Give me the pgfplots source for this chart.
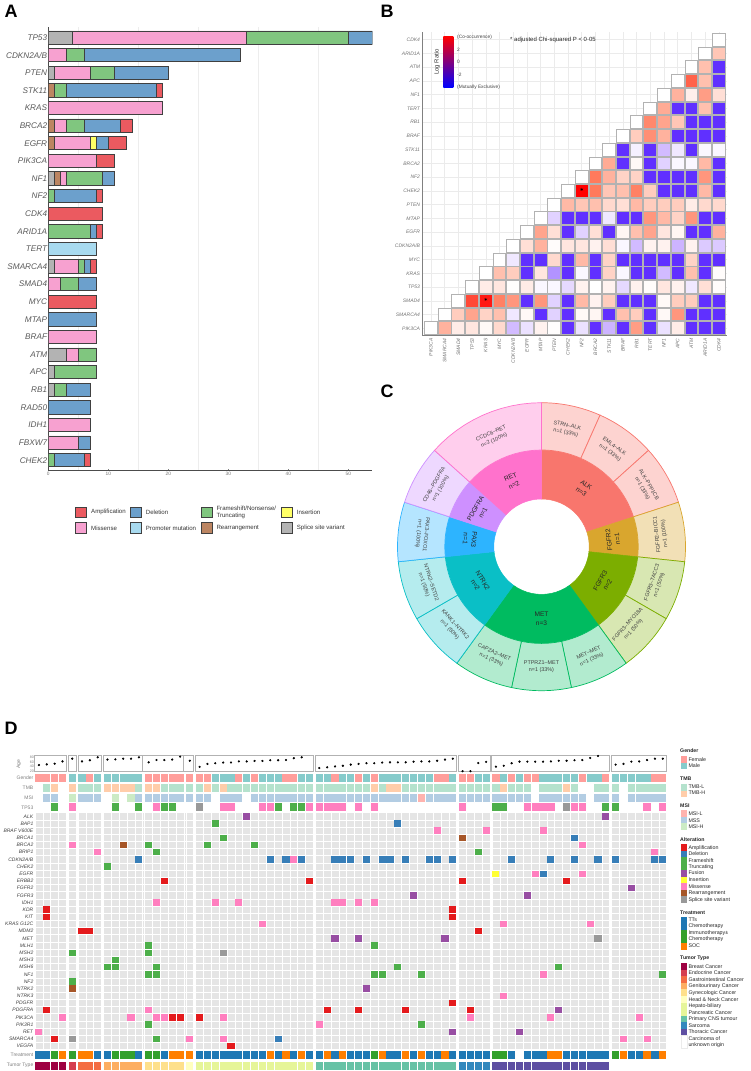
\documentclass[border=0pt]{standalone}
\usepackage{fontspec}
\setmainfont{Liberation Sans}
\usepackage{pgfplots}
\pgfplotsset{compat=1.18}
\usepackage{pgfplotstable}

% panel A / alteration colours
\definecolor{cAmp}{HTML}{EB5A60}
\definecolor{cDel}{HTML}{6CA0CC}
\definecolor{cFra}{HTML}{80C67F}
\definecolor{cIns}{HTML}{FFFF66}
\definecolor{cMis}{HTML}{F7A1D0}
\definecolor{cPro}{HTML}{A8DAEF}
\definecolor{cRea}{HTML}{BC8562}
\definecolor{cSpl}{HTML}{B3B3B3}
% panel C
\definecolor{fALK}{HTML}{F8766D}
\definecolor{fFR2}{HTML}{D9A62E}
\definecolor{fFR3}{HTML}{7CAE00}
\definecolor{fMET}{HTML}{00BB60}
\definecolor{fNTR}{HTML}{0ABFC6}
\definecolor{fPAX}{HTML}{2DB4FF}
\definecolor{fPDG}{HTML}{CE90FF}
\definecolor{fRET}{HTML}{FF72CC}
% panel D
\definecolor{oAmp}{HTML}{E41A1C}
\definecolor{oDel}{HTML}{377EB8}
\definecolor{oFra}{HTML}{4DAF4A}
\definecolor{oFus}{HTML}{984EA3}
\definecolor{oIns}{HTML}{FFFF33}
\definecolor{oMis}{HTML}{FF7FBF}
\definecolor{oRea}{HTML}{A65628}
\definecolor{oSpl}{HTML}{999999}
\definecolor{gF}{HTML}{FF9E9B}
\definecolor{gM}{HTML}{86CBCB}
\definecolor{tL}{HTML}{B5E2CD}
\definecolor{tH}{HTML}{FFCDAA}
\definecolor{mL}{HTML}{FFB3AE}
\definecolor{mS}{HTML}{B3CDE3}
\definecolor{mH}{HTML}{CCEBC5}
\definecolor{trA}{HTML}{1F78B4}
\definecolor{trB}{HTML}{33A02C}
\definecolor{trC}{HTML}{FF7F00}
\definecolor{tu1}{HTML}{9E0142}
\definecolor{tu2}{HTML}{D53E4F}
\definecolor{tu3}{HTML}{F46D43}
\definecolor{tu4}{HTML}{FDAE61}
\definecolor{tu5}{HTML}{FEE08B}
\definecolor{tu6}{HTML}{FFFFBF}
\definecolor{tu7}{HTML}{E6F598}
\definecolor{tu8}{HTML}{66C2A5}
\definecolor{tu9}{HTML}{3288BD}
\definecolor{tuA}{HTML}{5E4FA2}

\pgfplotstableread{
y sp re mi pr in fr de am
25 4 0 29 0 0 17 4 0
24 0 0 3 0 0 3 26 0
23 1 0 6 0 0 4 9 0
22 0 1 0 0 0 2 15 1
21 0 0 19 0 0 0 0 0
20 0 1 2 0 0 3 6 2
19 0 1 6 0 1 0 2 3
18 0 0 8 0 0 0 0 3
17 1 1 1 0 0 6 2 0
16 0 0 0 0 0 1 7 1
15 0 0 0 0 0 0 0 9
14 0 0 0 0 0 7 1 1
13 0 0 0 8 0 0 0 0
12 1 0 4 0 0 1 1 1
11 0 0 2 0 0 3 3 0
10 0 0 0 0 0 0 0 8
9 0 0 0 0 0 0 8 0
8 0 0 8 0 0 0 0 0
7 3 0 2 0 0 3 0 0
6 1 0 0 0 0 7 0 0
5 1 0 0 0 0 2 4 0
4 0 0 0 0 0 0 7 0
3 0 0 7 0 0 0 0 0
2 0 0 5 0 0 0 2 0
1 0 0 0 0 0 1 5 1
}\alterations

% cell marks: a shade smaller than the column and row pitch, so the white gaps stay
\pgfdeclareplotmark{gcell}{\pgfpathrectangle{\pgfqpoint{-3.55pt}{-3.22pt}}{\pgfqpoint{7.1pt}{6.44pt}}\pgfusepathqfill}
\pgfdeclareplotmark{acell}{\pgfpathrectangle{\pgfqpoint{-3.6pt}{-3.9pt}}{\pgfqpoint{7.2pt}{7.8pt}}\pgfusepathqfill}

% one oncoprint annotation row: colour, row position, columns
\newcommand{\annot}[3]{\def\pts{}%
  \pgfplotsforeachungrouped \cc in {#3}{\edef\pts{\pts(\cc,#2)}}%
  \edef\cmd{\noexpand\addplot[only marks,mark=acell,color=#1] coordinates {\pts};}\cmd}
% one ring sector: from angle, to angle, inner r, outer r, style
\newcommand{\sector}[5]{\def\pts{}%
  \pgfplotsforeachungrouped \tt in {0,...,12}{\pgfmathsetmacro\aa{#1+(#2-#1)*\tt/12}\edef\pts{\pts(\aa,#4)}}%
  \pgfplotsforeachungrouped \tt in {12,11,...,0}{\pgfmathsetmacro\aa{#1+(#2-#1)*\tt/12}\edef\pts{\pts(\aa,#3)}}%
  \edef\cmd{\noexpand\addplot[data cs=polar,#5] coordinates {\pts} -- cycle;}\cmd}
\newcommand{\grect}[2]{\addplot[fill=black!10,draw=none] coordinates {(#1,0.5)(#2,0.5)(#2,33.5)(#1,33.5)} -- cycle;}
\newcommand{\gframe}[2]{\addplot[draw=black!30,line width=1pt] coordinates {(#1,16.8)(#2,16.8)(#2,88.8)(#1,88.8)} -- cycle;}

\pgfplotsset{
  gaps/.style={x filter/.expression={x+0.242*((x>4.5)+(x>5.5)+(x>8.5)+(x>13.5)+(x>18.5)+(x>19.5)+(x>34.5)+(x>52.5)+(x>56.5)+(x>71.5))}},
}

\begin{document}
\begin{tikzpicture}
\useasboundingbox (0pt,0pt) rectangle (750pt,-1071pt);

% ---------- A
\begin{axis}[
  at={(48.3pt,-470.5pt)},anchor=south west,scale only axis,width=324pt,height=443.5pt,
  xbar stacked,bar width=13.3pt,
  xmin=0,xmax=54,ymin=0.416,ymax=25.6,
  axis lines*=left,
  axis line style={black!70,line width=1pt},
  xtick={0,10,20,30,40,50},
  minor xtick={5,15,25,35,45},xminorgrids=true,minor grid style={black!7,line width=.5pt},
  minor tick length=0pt,major tick length=2pt,
  tick style={black!50},
  ytick={1,...,25},
  yticklabels={CHEK2,FBXW7,IDH1,RAD50,RB1,APC,ATM,BRAF,MTAP,MYC,SMAD4,SMARCA4,TERT,ARID1A,CDK4,NF2,NF1,PIK3CA,EGFR,BRCA2,KRAS,STK11,PTEN,CDKN2A/B,TP53},
  yticklabel style={font=\fontsize{8.2}{9}\selectfont\itshape,text=black!65,inner sep=1pt},
  xticklabel style={font=\fontsize{4.8}{6}\selectfont,text=black!55,inner sep=1.5pt,/pgf/number format/assume math mode=true},
  every axis plot/.append style={draw=black!75,line width=.8pt},
]
\addplot[fill=cSpl] table[x=sp,y=y] {\alterations};
\addplot[fill=cRea] table[x=re,y=y] {\alterations};
\addplot[fill=cMis] table[x=mi,y=y] {\alterations};
\addplot[fill=cPro] table[x=pr,y=y] {\alterations};
\addplot[fill=cIns] table[x=in,y=y] {\alterations};
\addplot[fill=cFra] table[x=fr,y=y] {\alterations};
\addplot[fill=cDel] table[x=de,y=y] {\alterations};
\addplot[fill=cAmp] table[x=am,y=y] {\alterations};
\end{axis}

% ---------- B
\begin{axis}[
  at={(422.7pt,-335.7pt)},anchor=south west,scale only axis,width=304.3pt,height=303.7pt,
  xmin=-0.6,xmax=21.6,ymin=-0.54,ymax=21.56,
  axis lines*=left,axis line style={black!50,line width=1pt},
  grid=major,grid style={black!8,line width=.5pt},
  major tick length=0pt,clip=false,
  xtick={0,...,21},ytick={0,...,21},
  xticklabels={PIK3CA,SMARCA4,SMAD4,TP53,KRAS,MYC,CDKN2A/B,EGFR,MTAP,PTEN,CHEK2,NF2,BRCA2,STK11,BRAF,RB1,TERT,NF1,APC,ATM,ARID1A,CDK4},
  yticklabels={PIK3CA,SMARCA4,SMAD4,TP53,KRAS,MYC,CDKN2A/B,EGFR,MTAP,PTEN,CHEK2,NF2,BRCA2,STK11,BRAF,RB1,TERT,NF1,APC,ATM,ARID1A,CDK4},
  xticklabel style={font=\fontsize{5}{6}\selectfont\itshape,text=black!55,rotate=90,anchor=east,inner sep=2.5pt},
  yticklabel style={font=\fontsize{5}{6}\selectfont\itshape,text=black!55,inner sep=2.5pt},
  colormap={lr}{rgb255(0cm)=(96,48,255); rgb255(2cm)=(205,180,255); rgb255(3cm)=(255,255,255); rgb255(4cm)=(255,192,174); rgb255(5cm)=(255,122,92); rgb255(6cm)=(255,0,0)},
  point meta min=-3,point meta max=3,
]
\addplot[scatter,only marks,mark=square*,mark size=6.4pt,line width=.9pt,point meta=explicit,
  scatter/use mapped color={draw=black!30,fill=mapped color}] coordinates {
 (21,21) [0]
 (20,20) [0] (21,20) [0.9]
 (19,19) [0] (20,19) [1] (21,19) [-3]
 (18,18) [0] (19,18) [2.2] (20,18) [1] (21,18) [-3]
 (17,17) [0] (18,17) [1.2] (19,17) [.25] (20,17) [1.5] (21,17) [.5]
 (16,16) [0] (17,16) [1.3] (18,16) [-3] (19,16) [-3] (20,16) [1] (21,16) [-3]
 (15,15) [0] (16,15) [1.8] (17,15) [1.4] (18,15) [.9] (19,15) [-3] (20,15) [-3] (21,15) [-3]
 (14,14) [0] (15,14) [.8] (16,14) [1.7] (17,14) [1.2] (18,14) [-3] (19,14) [-3] (20,14) [-3] (21,14) [-3]
 (13,13) [0] (14,13) [-3] (15,13) [-.2] (16,13) [-3] (17,13) [-.9] (18,13) [-.3] (19,13) [-3] (20,13) [-.1] (21,13) [-.1]
 (12,12) [0] (13,12) [1.3] (14,12) [-3] (15,12) [.1] (16,12) [-3] (17,12) [-.6] (18,12) [-.1] (19,12) [-.1] (20,12) [1.1] (21,12) [-3]
 (11,11) [0] (12,11) [2] (13,11) [1.2] (14,11) [.7] (15,11) [.7] (16,11) [-3] (17,11) [-3] (18,11) [-3] (19,11) [-3] (20,11) [1.6] (21,11) [-3]
 (10,10) [0] (11,10) [3] (12,10) [2] (13,10) [.9] (14,10) [1] (15,10) [1.9] (16,10) [.8] (17,10) [-3] (18,10) [-3] (19,10) [-3] (20,10) [1.1] (21,10) [-3]
 (9,9) [0] (10,9) [1.1] (11,9) [.9] (12,9) [1] (13,9) [.6] (14,9) [.5] (15,9) [1.1] (16,9) [.8] (17,9) [.8] (18,9) [.8] (19,9) [.3] (20,9) [.6] (21,9) [.6]
 (8,8) [0] (9,8) [-.6] (10,8) [-3] (11,8) [-3] (12,8) [-3] (13,8) [-.3] (14,8) [-3] (15,8) [-3] (16,8) [1.6] (17,8) [1.1] (18,8) [.7] (19,8) [1.6] (20,8) [-3] (21,8) [-3]
 (7,7) [0] (8,7) [1.4] (9,7) [.5] (10,7) [-3] (11,7) [-.6] (12,7) [.5] (13,7) [-3] (14,7) [.15] (15,7) [1] (16,7) [1.4] (17,7) [.4] (18,7) [.15] (19,7) [-3] (20,7) [-3] (21,7) [1.2]
 (6,6) [0] (7,6) [.5] (8,6) [1.2] (9,6) [.05] (10,6) [.4] (11,6) [.4] (12,6) [.2] (13,6) [.5] (14,6) [-.1] (15,6) [-.9] (16,6) [.2] (17,6) [.2] (18,6) [-1] (19,6) [.2] (20,6) [-.7] (21,6) [-.7]
 (5,5) [0] (6,5) [-.3] (7,5) [-3] (8,5) [-3] (9,5) [.6] (10,5) [-3] (11,5) [1.1] (12,5) [-3] (13,5) [.7] (14,5) [-3] (15,5) [-3] (16,5) [-3] (17,5) [-3] (18,5) [-3] (19,5) [.7] (20,5) [-3] (21,5) [-3]
 (4,4) [0] (5,4) [1] (6,4) [.8] (7,4) [-3] (8,4) [.4] (9,4) [-1.5] (10,4) [-3] (11,4) [-.1] (12,4) [-3] (13,4) [.7] (14,4) [-.1] (15,4) [-3] (16,4) [-3] (17,4) [-.9] (18,4) [-3] (19,4) [1] (20,4) [-3] (21,4) [.05]
 (3,3) [0] (4,3) [.3] (5,3) [.4] (6,3) [.02] (7,3) [.3] (8,3) [-.1] (9,3) [-.1] (10,3) [-.5] (11,3) [.2] (12,3) [0] (13,3) [.2] (14,3) [-.5] (15,3) [.2] (16,3) [.05] (17,3) [.4] (18,3) [.2] (19,3) [-.3] (20,3) [.5] (21,3) [.05]
 (2,2) [0] (3,2) [2.4] (4,2) [2.8] (5,2) [1.9] (6,2) [1.6] (7,2) [-3] (8,2) [1.6] (9,2) [-.6] (10,2) [-3] (11,2) [1.1] (12,2) [.2] (13,2) [.8] (14,2) [-3] (15,2) [-3] (16,2) [-3] (17,2) [.1] (18,2) [.8] (19,2) [.8] (20,2) [-3] (21,2) [-3]
 (1,1) [0] (2,1) [.8] (3,1) [1.4] (4,1) [.7] (5,1) [1] (6,1) [-.3] (7,1) [.1] (8,1) [-3] (9,1) [-.6] (10,1) [-3] (11,1) [.1] (12,1) [.15] (13,1) [-3] (14,1) [1] (15,1) [.8] (16,1) [-3] (17,1) [.1] (18,1) [1.6] (19,1) [-3] (20,1) [-3] (21,1) [-3]
 (0,0) [0] (1,0) [1.2] (2,0) [.3] (3,0) [.4] (4,0) [.1] (5,0) [.6] (6,0) [-.9] (7,0) [-.4] (8,0) [.2] (9,0) [.03] (10,0) [-3] (11,0) [-.4] (12,0) [-3] (13,0) [-1] (14,0) [-3] (15,0) [1.5] (16,0) [-3] (17,0) [-.4] (18,0) [.3] (19,0) [-3] (20,0) [-3] (21,0) [-3]
};
\addplot[only marks,mark=asterisk,mark size=1.5pt,line width=.4pt,black] coordinates {(11,10.1) (4,2.1)};
\end{axis}

% ---------- C
\begin{axis}[
  at={(395.5pt,-692.7pt)},anchor=south west,scale only axis,width=292pt,height=292pt,
  xmin=-146,xmax=146,ymin=-146,ymax=146,hide axis,clip=false,
]
\sector{90}{18}{47.7}{96.7}{fill=fALK,draw=fALK,line width=.5pt}
\sector{18}{-6}{47.7}{96.7}{fill=fFR2,draw=fFR2,line width=.5pt}
\sector{-6}{-54}{47.7}{96.7}{fill=fFR3,draw=fFR3,line width=.5pt}
\sector{-54}{-126}{47.7}{96.7}{fill=fMET,draw=fMET,line width=.5pt}
\sector{-126}{-174}{47.7}{96.7}{fill=fNTR,draw=fNTR,line width=.5pt}
\sector{-174}{-198}{47.7}{96.7}{fill=fPAX,draw=fPAX,line width=.5pt}
\sector{-198}{-222}{47.7}{96.7}{fill=fPDG,draw=fPDG,line width=.5pt}
\sector{-222}{-270}{47.7}{96.7}{fill=fRET,draw=fRET,line width=.5pt}
\sector{90}{66}{96.7}{144}{fill=fALK!32!white,draw=fALK,line width=.7pt}
\sector{66}{42}{96.7}{144}{fill=fALK!32!white,draw=fALK,line width=.7pt}
\sector{42}{18}{96.7}{144}{fill=fALK!32!white,draw=fALK,line width=.7pt}
\sector{18}{-6}{96.7}{144}{fill=fFR2!35!white,draw=fFR2,line width=.7pt}
\sector{-6}{-30}{96.7}{144}{fill=fFR3!30!white,draw=fFR3,line width=.7pt}
\sector{-30}{-54}{96.7}{144}{fill=fFR3!30!white,draw=fFR3,line width=.7pt}
\sector{-54}{-78}{96.7}{144}{fill=fMET!30!white,draw=fMET,line width=.7pt}
\sector{-78}{-102}{96.7}{144}{fill=fMET!30!white,draw=fMET,line width=.7pt}
\sector{-102}{-126}{96.7}{144}{fill=fMET!30!white,draw=fMET,line width=.7pt}
\sector{-126}{-150}{96.7}{144}{fill=fNTR!30!white,draw=fNTR,line width=.7pt}
\sector{-150}{-174}{96.7}{144}{fill=fNTR!30!white,draw=fNTR,line width=.7pt}
\sector{-174}{-198}{96.7}{144}{fill=fPAX!35!white,draw=fPAX,line width=.7pt}
\sector{-198}{-222}{96.7}{144}{fill=fPDG!35!white,draw=fPDG,line width=.7pt}
\sector{-222}{-270}{96.7}{144}{fill=fRET!35!white,draw=fRET,line width=.7pt}
\end{axis}
\begin{scope}[shift={(541.5pt,-546.7pt)},x=1pt,y=1pt,
    inl/.style={align=center,font=\fontsize{6.6}{8.5}\selectfont,text=black!85,inner sep=0pt},
    oul/.style={align=center,font=\fontsize{5.4}{7.5}\selectfont,text=black!75,inner sep=0pt}]
  \foreach \a/\r/\t in {54/-36/ALK\\n=3,6/96/FGFR2\\n=1,-30/60/FGFR3\\n=2,-90/0/MET\\n=3,-150/-60/NTRK2\\n=2,-186/-96/PAX3\\n=1,-210/60/PDGFRA\\n=1,-246/24/RET\\n=2}
    \node[inl,rotate=\r] at (\a:72) {\t};
  \foreach \a/\r/\t in {78/-12/STRN--ALK\\n=1 (33\%),54/-36/EML4--ALK\\n=1 (33\%),30/-60/ALK--PPP1CB\\n=1 (33\%),6/96/FGFR2--BICC1\\n=1 (100\%),-18/72/FGFR3--TACC3\\n=1 (50\%),-42/48/FGFR3--MYO18A\\n=1 (50\%),-66/24/MET--MET\\n=1 (33\%),-90/0/PTPRZ1--MET\\n=1 (33\%),-114/-24/CAPZA2--MET\\n=1 (33\%),-138/-48/KANK1--NTRK2\\n=1 (50\%),-162/-72/NTRK2--SETD2\\n=1 (50\%),-186/-96/PAX3--FOXO1\\n=1 (100\%),-210/60/CD46--PDGFRA\\n=1 (100\%),-246/24/CCDC6--RET\\n=2 (100\%)}
    \node[oul,rotate=\r] at (\a:120) {\t};
\end{scope}

% ---------- D, age
\begin{axis}[
  at={(35pt,-771.7pt)},anchor=south west,scale only axis,width=631.7pt,height=16.4pt,
  gaps,xmin=0.5,xmax=80.92,ymin=16.8,ymax=88.8,clip=false,
  axis line style={draw=none},major tick length=0pt,
  xtick=\empty,ytick={20,40,60,80},
  yticklabel style={font=\fontsize{3.6}{4}\selectfont,text=black!50,inner sep=1pt,/pgf/number format/assume math mode=true},
]
\gframe{0.5}{4.5}\gframe{4.5001}{5.5}\gframe{5.5001}{8.5}\gframe{8.5001}{13.5}\gframe{13.5001}{18.5}\gframe{18.5001}{19.5}
\gframe{19.5001}{34.5}\gframe{34.5001}{52.5}\gframe{52.5001}{56.5}\gframe{56.5001}{71.5}\gframe{71.5001}{78.5}
\addplot[only marks,mark=*,mark size=.9pt,black] coordinates {
 (1,46)(2,49)(3,52)(4,62)(5,74)(6,62)(7,67)(8,80)(9,70)(10,71)(11,74)(12,74)(13,80)
 (14,58)(15,68)(16,68)(17,70)(18,83)(19,65)
 (20,38)(21,51)(22,54)(23,57)(24,57)(25,62)(26,62)(27,64)(28,64)(29,67)(30,67)(31,68)(32,76)(33,80)
 (35,33)(36,36)(37,40)(38,43)(39,48)(40,51)(41,54)(42,54)(43,57)(44,58)(45,58)(46,58)(47,61)(48,62)(49,62)(50,65)(51,70)(52,74)
 (53,19)(54,19)(55,55)(56,60)
 (57,39)(58,43)(59,54)(60,61)(61,61)(62,61)(63,61)(64,62)(65,65)(66,65)(67,67)(68,68)(69,77)(70,86)
 (72,48)(73,51)(74,61)(75,62)(76,68)(77,74)(78,74)
};
\end{axis}

% ---------- D, oncoprint
\begin{axis}[
  at={(35pt,-1070.5pt)},anchor=south west,scale only axis,width=631.7pt,height=297pt,
  gaps,xmin=0.5,xmax=80.92,ymin=-4.96,ymax=36.4,y dir=reverse,
  axis on top,clip mode=global,
  axis line style={draw=none},major tick length=0pt,minor tick length=0pt,
  xtick={0.5,1.5,2.5,3.5,4.5,4.742,5.742,5.984,6.984,7.984,8.984,9.226,10.226,11.226,12.226,13.226,14.226,14.468,15.468,16.468,17.468,18.468,19.468,19.71,20.71,20.952,21.952,22.952,23.952,24.952,25.952,26.952,27.952,28.952,29.952,30.952,31.952,32.952,33.952,34.952,35.952,36.194,37.194,38.194,39.194,40.194,41.194,42.194,43.194,44.194,45.194,46.194,47.194,48.194,49.194,50.194,51.194,52.194,53.194,54.194,54.436,55.436,56.436,57.436,58.436,58.678,59.678,60.678,61.678,62.678,63.678,64.678,65.678,66.678,67.678,68.678,69.678,70.678,71.678,72.678,73.678,73.92,74.92,75.92,76.92,77.92,78.92,79.92,80.92},
  xticklabels={},
  xmajorgrids=true,major grid style={white,line width=.7pt},
  minor ytick={0.5,1.5,...,33.5},
  yminorgrids=true,minor grid style={white,line width=.7pt},
  ytick={-4.38,-2.98,-1.58,-0.25,1,2,3,4,5,6,7,8,9,10,11,12,13,14,15,16,17,18,19,20,21,22,23,24,25,26,27,28,29,30,31,32,33,34.28,35.72},
  yticklabels={{\color{black!50}Gender},{\color{black!50}TMB},{\color{black!50}MSI},{\color{black!50}TP53},\textit{ALK},\textit{BAP1},\textit{BRAF V600E},\textit{BRCA1},\textit{BRCA2},\textit{BRIP1},\textit{CDKN2A/B},\textit{CHEK2},\textit{EGFR},\textit{ERBB2},\textit{FGFR2},\textit{FGFR3},\textit{IDH1},\textit{KDR},\textit{KIT},\textit{KRAS G12C},\textit{MDM2},\textit{MET},\textit{MLH1},\textit{MSH2},\textit{MSH3},\textit{MSH6},\textit{NF1},\textit{NF2},\textit{NTRK2},\textit{NTRK3},\textit{PDGFR},\textit{PDGFRA},\textit{PIK3CA},\textit{PIK3R1},\textit{RET},\textit{SMARCA4},\textit{VEGFA},{\color{black!50}Treatment},{\color{black!50}Tumor Type}},
  yticklabel style={font=\fontsize{5}{6}\selectfont,text=black!75,inner sep=1.5pt},
]
\grect{0.5}{4.5}\grect{4.5001}{5.5}\grect{5.5001}{8.5}\grect{8.5001}{13.5}\grect{13.5001}{18.5}\grect{18.5001}{19.5}
\grect{19.5001}{34.5}\grect{34.5001}{52.5}\grect{52.5001}{56.5}\grect{56.5001}{71.5}\grect{71.5001}{78.5}
% alterations: (column, gene row)
\addplot[only marks,mark=gcell,color=oAmp] coordinates {(16,10)(34,10)(53,10)(66,10)(2,14)(52,14)(2,15)(52,15)(6,17)(7,17)(55,17)(52,27)(2,28)(36,28)(40,28)(46,28)(54,28)(17,29)(18,29)(20,29)(3,32)(24,33)};
\addplot[only marks,mark=gcell,color=oDel] coordinates {(45,2)(67,4)(13,7)(29,7)(31,7)(33,7)(37,7)(38,7)(39,7)(41,7)(43,7)(44,7)(46,7)(49,7)(50,7)(52,7)(59,7)(64,7)(67,7)(70,7)(72,7)(77,7)(78,7)(63,9)(30,32)};
\addplot[only marks,mark=gcell,color=oFra] coordinates {(22,2)(23,4)(14,5)(21,5)(27,5)(15,6)(55,6)(9,8)(14,19)(42,19)(5,20)(14,20)(10,21)(9,22)(10,22)(15,22)(45,22)(65,22)(14,23)(15,23)(42,23)(43,23)(48,23)(78,23)(5,24)(14,30)(48,30)(15,32)};
\addplot[only marks,mark=gcell,color=oFus] coordinates {(26,1)(71,1)(74,11)(47,12)(61,12)(37,18)(40,18)(51,18)(41,25)(65,28)(52,31)(60,31)};
\addplot[only marks,mark=gcell,color=oIns] coordinates {(57,9)};
\addplot[only marks,mark=gcell,color=oMis] coordinates {(50,3)(56,3)(63,3)(5,5)(68,5)(8,6)(77,6)(32,7)(62,9)(68,9)(15,13)(22,13)(25,13)(37,13)(38,13)(40,13)(42,13)(28,16)(58,16)(69,16)(63,23)(58,26)(14,28)(4,29)(12,29)(15,29)(16,29)(23,29)(54,29)(64,29)(75,29)(35,30)(1,31)(19,32)(23,32)(73,32)(76,32)};
\addplot[only marks,mark=gcell,color=oRea] coordinates {(53,4)(11,5)(5,25)};
\addplot[only marks,mark=gcell,color=oSpl] coordinates {(23,20)(70,18)(5,32)};
% annotation rows
\annot{gF}{-4.38}{1,2,3,4,7,14,15,16,17,18,19,20,21,25,27,31,32,37,40,42,50,51,53,54,57,59,61,62,68,71,77,78}
\annot{gM}{-4.38}{5,6,8,9,10,11,12,13,22,23,24,26,28,29,30,33,34,35,36,38,39,41,43,44,45,46,47,48,49,52,55,56,58,60,63,64,65,66,67,69,70,72,73,74,75,76}
\annot{tL}{-2.98}{2,6,7,8,13,16,17,18,19,20,22,24,25,26,27,28,29,30,31,32,33,34,35,36,37,38,39,40,41,43,46,47,48,49,50,51,52,53,54,55,56,57,59,60,61,63,64,65,67,70,71,72,74,75,76,77,78}
\annot{tH}{-2.98}{3,5,9,10,11,12,14,15,21,23,42,44,45,58,66}
\annot{mS}{-1.58}{2,3,6,7,8,13,14,15,16,17,18,19,20,21,23,24,25,27,28,29,30,31,32,33,34,35,36,37,38,39,40,41,42,43,44,45,46,47,49,50,51,52,53,54,55,56,57,58,59,60,61,63,64,65,66,67,68,70,71,72,74,75,76,77,78}
\annot{mH}{-1.58}{5,10,12}
\annot{mL}{-1.58}{48}
\annot{oFra}{-0.25}{3,10,13,16,17,30,32,33,57,58,71,72}
\annot{oMis}{-0.25}{5,15,23,24,28,29,34,35,36,37,38,40,42,53,61,62,63,64,67,68,76,78}
\annot{oSpl}{-0.25}{20,66}
\annot{trA}{34.28}{1,2,8,9,13,16,20,21,22,23,24,25,26,27,28,30,32,34,35,37,39,40,41,44,45,47,49,50,52,53,54,55,56,59,61,62,63,66,67,68,69,70,71,74,75,77}
\annot{trB}{34.28}{3,5,10,11,12,14,15,42,57,58,72}
\annot{trC}{34.28}{4,6,7,17,18,19,29,31,33,36,38,43,46,48,51,64,65,73,76,78}
\annot{tu1}{35.72}{1,2,3,4}
\annot{tu2}{35.72}{5}
\annot{tu3}{35.72}{6,7,8}
\annot{tu4}{35.72}{9,10,11,12,13}
\annot{tu5}{35.72}{14,15,16,17,18}
\annot{tu6}{35.72}{19}
\annot{tu7}{35.72}{20,21,22,23,24,25,26,27,28,29,30,31,32,33,34}
\annot{tu8}{35.72}{35,36,37,38,39,40,41,42,43,44,45,46,47,48,49,50,51,52}
\annot{tu9}{35.72}{53,54,55,56}
\annot{tuA}{35.72}{57,58,59,60,61,62,63,64,65,66,67,68,69,70,71}
\end{axis}

% ---------- texts and legends, in picture pixels
\begin{scope}[x=1pt,y=-1pt]
  \foreach \x/\y/\t in {11/11.5/A,387/11/B,387/391/C,11/728/D}
    \node[font=\fontsize{18}{18}\selectfont\bfseries,inner sep=0pt] at (\x,\y) {\t};

  % legend A
  \foreach \x/\y/\c in {75.7/512.3/cAmp,130.7/512.3/cDel,201.3/512.3/cFra,281.7/512.3/cIns,75.7/528/cMis,130.7/528/cPro,201.3/528/cRea,281.7/528/cSpl}
    \fill[\c,draw=black!75,line width=.7pt] (\x,\y-5.3) rectangle (\x+10.6,\y+5.3);
  \foreach \x/\y/\t in {91/512.3/Amplification,145.7/512.3/Deletion,216.3/512.3/{Frameshift/Nonsense/\\Truncating},296.7/512.3/Insertion,91/528/Missense,145.7/528/Promoter mutation,216.3/528/Rearrangement,296.7/528/Splice site variant}
    \node[anchor=west,align=left,inner sep=0pt,font=\fontsize{6.1}{6.6}\selectfont,text=black!80] at (\x,\y) {\t};

  % colour key B
  \shade[top color=red,middle color=white,bottom color=blue] (443.3,36.7) rectangle (453.3,87.3);
  \node[rotate=90,font=\fontsize{6}{7}\selectfont,text=black!80,inner sep=0pt] at (437,62) {Log Ratio};
  \foreach \y/\t in {37/(Co-occurrence),49.7/2,62/0,74.7/-2,87/(Mutually Exclusive)}
    \node[anchor=west,inner sep=0pt,font=\fontsize{4.8}{6}\selectfont,text=black!75] at (457,\y) {\t};
  \node[anchor=west,inner sep=0pt,font=\fontsize{6}{7}\selectfont,text=black!85] at (510,40) {* adjusted Chi-squared P < 0·05};

  % D labels
  \node[rotate=90,font=\fontsize{5}{6}\selectfont,text=black!50,inner sep=0pt] at (19,764) {Age};

  % legend D
  \foreach \y/\t in {750.7/Gender,778.3/TMB,806/MSI,839.3/Alteration,912.3/Treatment,958/Tumor Type}
    \node[anchor=west,inner sep=0pt,font=\fontsize{5.2}{6}\selectfont\bfseries,text=black!85] at (680,\y) {\t};
  \foreach \a/\b/\c in {756.3/762.7/gF,762.7/769.2/gM,784.3/790.7/tL,790.7/796.9/tH,810.4/816.9/mL,816.9/823.4/mS,823.4/829.8/mH,844.4/850.7/oAmp,850.7/857.2/oDel,857.2/870.2/oFra,870.2/876.9/oFus,876.9/883.3/oIns,883.3/889.9/oMis,889.9/896.3/oRea,896.3/902.8/oSpl,917.2/930.2/trA,930.2/943/trB,943/949.5/trC,963.2/969.7/tu1,969.7/976.3/tu2,976.3/982.8/tu3,982.8/989.4/tu4,989.4/996/tu5,996/1002.6/tu6,1002.6/1015.6/tu7,1015.6/1022/tu8,1022/1028.6/tu9,1028.6/1035/tuA}
    \fill[\c] (680.7,\a) rectangle (686.7,\b);
  \draw[black!8,line width=.4pt] (680.7,1035) rectangle (686.7,1048);
  \foreach \y/\t in {759.3/Female,765.7/Male,787/TMB-L,793/TMB-H,813.7/MSI-L,820.3/MSS,826.7/MSI-H,847.7/Amplification,854/Deletion,860.7/Frameshift/Nonsense/,867/Truncating,873/Fusion,880/Insertion,886.7/Missense,893/Rearrangement,899.7/Splice site variant,920/TTs,926.3/Chemotherapy/SOC,933/Immunotherapy±,939.3/Chemotherapy/SOC,945.7/SOC,966.3/Breast Cancer,973/Endocrine Cancer,979.3/Gastrointestinal Cancer,986/Genitourinary Cancer,992.7/Gynecologic Cancer,999.3/Head \& Neck Cancer,1006/Hepato-biliary,1012.3/Pancreatic Cancer,1018.7/Primary CNS tumour,1025.3/Sarcoma,1031.7/Thoracic Cancer,1038.3/Carcinoma of,1044.7/unknown origin}
    \node[anchor=west,inner sep=0pt,font=\fontsize{5.3}{6}\selectfont,text=black!85] at (688.3,\y) {\t};
\end{scope}
\end{tikzpicture}
\end{document}
